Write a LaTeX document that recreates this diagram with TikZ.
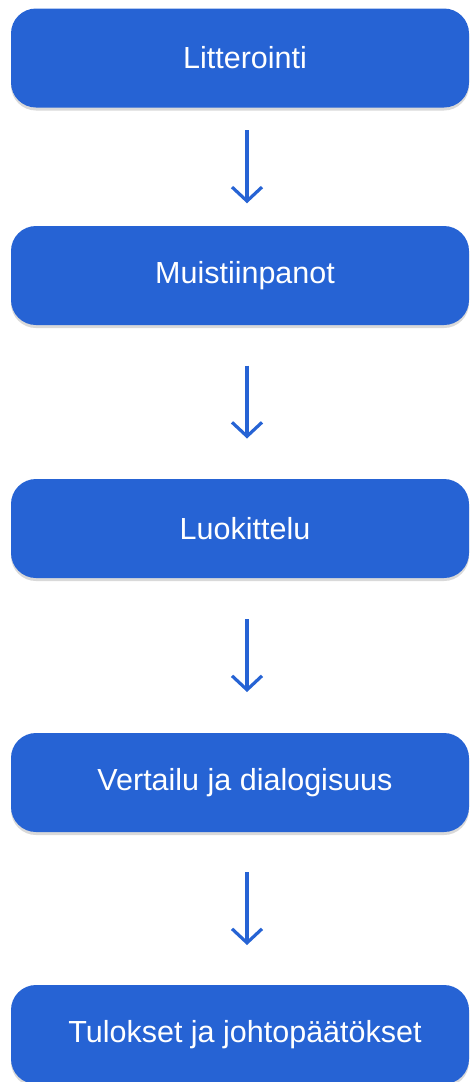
\documentclass[tikz,border=0pt]{standalone}
\usepackage{fontspec}
\setmainfont{Liberation Sans}
\usetikzlibrary{calc}
\usetikzlibrary{arrows.meta, shadows}
\definecolor{stepblue}{HTML}{2663D4}

\begin{document}
\begin{tikzpicture}[x=1pt, y=-1pt, thick]%
  \tikzset{
    phase/.style={fill=stepblue, rounded corners=25pt, minimum width=458pt,
      minimum height=99pt, text=white, font=\fontsize{30.5}{36}\selectfont,
      execute at begin node=\hspace*{10pt},
      drop shadow={shadow xshift=0pt, shadow yshift=-3pt, opacity=.25, fill=black!60}},
    flow/.style={stepblue, line width=3.2pt, line join=round,
      -{Straight Barb[length=14pt, width=30pt]}}
  }
  \useasboundingbox (0,0) rectangle (470,1082);
  \foreach \n/\y/\t in {1/58/Litterointi, 2/275.5/Muistiinpanot, 3/528.5/Luokittelu,
    4/782.5/Vertailu ja dialogisuus, 5/1034.5/Tulokset ja johtopäätökset} {
    \node[phase] (b\n) at (240,\y) {\t};
  }
  \foreach \i [evaluate=\i as \j using int(\i+1)] in {1, ..., 4} {
    \coordinate (m\i) at ($(b\i.south)!.5!(b\j.north) + (7,0)$);
    \draw[flow] ([yshift=36.5pt]m\i) -- ([yshift=-36.5pt]m\i);
  }
\end{tikzpicture}
\end{document}
